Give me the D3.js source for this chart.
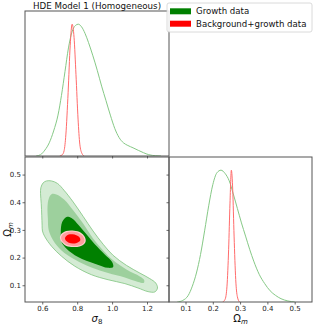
<!DOCTYPE html>
<html>
<head>
<meta charset="utf-8">
<script src="https://cdn.jsdelivr.net/npm/d3@7"></script>
<style>
html,body{margin:0;padding:0;background:#fff;}
svg{display:block;font-family:"DejaVu Sans",sans-serif;}
</style>
</head>
<body>
<svg id="chart" width="316" height="329"></svg>
<script>
// ---------- data ----------
const title = "HDE Model 1 (Homogeneous)";
const seriesNames = ["Growth data", "Background+growth data"];
const sigma8Ticks = [0.6, 0.8, 1.0, 1.2];
const omegaTicks = [0.1, 0.2, 0.3, 0.4, 0.5];
const sigma8Range = [0.501, 1.326];
const omegaRange = [0.0395, 0.5635];

// 1D marginal of sigma8 (normalised density)
const growthSigma8 = [[0.565,0],[0.59,0.01],[0.615,0.045],[0.64,0.1],[0.665,0.19],[0.69,0.31],[0.71,0.46],[0.73,0.64],[0.75,0.82],[0.77,0.94],[0.79,0.99],[0.806,1.0],[0.825,0.98],[0.845,0.93],[0.865,0.86],[0.89,0.76],[0.915,0.65],[0.94,0.53],[0.965,0.42],[0.99,0.31],[1.015,0.21],[1.04,0.14],[1.065,0.10],[1.09,0.08],[1.12,0.062],[1.15,0.043],[1.18,0.025],[1.21,0.01],[1.25,0.002],[1.28,0]];
const bgSigma8 = [[0.70,0],[0.715,0.01],[0.725,0.04],[0.735,0.16],[0.748,0.48],[0.76,0.84],[0.771,1.0],[0.782,0.9],[0.793,0.62],[0.805,0.28],[0.815,0.09],[0.827,0.02],[0.84,0]];
// 1D marginal of Omega_m
const growthOmega = [[0.07,0],[0.09,0.012],[0.11,0.05],[0.125,0.12],[0.14,0.22],[0.155,0.36],[0.17,0.54],[0.185,0.73],[0.2,0.89],[0.215,0.98],[0.23,1.0],[0.245,0.975],[0.26,0.92],[0.275,0.82],[0.29,0.71],[0.305,0.6],[0.32,0.5],[0.335,0.4],[0.35,0.31],[0.37,0.21],[0.39,0.14],[0.41,0.085],[0.43,0.05],[0.45,0.025],[0.475,0.008],[0.5,0]];
const bgOmega = [[0.236,0],[0.245,0.02],[0.252,0.12],[0.258,0.4],[0.263,0.75],[0.268,1.0],[0.273,0.85],[0.278,0.5],[0.284,0.17],[0.29,0.04],[0.298,0]];

// 2D contours (sigma8, Omega_m)
const growth3 = [[0.624,0.477],[0.605,0.470],[0.592,0.453],[0.590,0.431],[0.594,0.395],[0.597,0.353],[0.599,0.317],[0.601,0.296],[0.615,0.275],[0.653,0.241],[0.710,0.205],[0.786,0.169],[0.882,0.138],[0.977,0.120],[1.073,0.106],[1.149,0.090],[1.206,0.077],[1.245,0.076],[1.260,0.090],[1.250,0.108],[1.216,0.124],[1.159,0.144],[1.082,0.172],[1.006,0.208],[0.949,0.248],[0.891,0.296],[0.834,0.349],[0.777,0.401],[0.725,0.443],[0.687,0.468],[0.653,0.477]];
const growth2 = [[0.653,0.429],[0.637,0.413],[0.630,0.383],[0.632,0.341],[0.637,0.299],[0.662,0.263],[0.710,0.226],[0.786,0.193],[0.882,0.164],[0.977,0.144],[1.073,0.128],[1.149,0.112],[1.182,0.109],[1.183,0.120],[1.159,0.132],[1.082,0.157],[1.006,0.190],[0.949,0.226],[0.891,0.269],[0.834,0.323],[0.777,0.371],[0.725,0.410],[0.681,0.428]];
const growth1 = [[0.739,0.347],[0.714,0.329],[0.706,0.293],[0.710,0.257],[0.739,0.232],[0.805,0.202],[0.901,0.178],[0.977,0.163],[1.006,0.166],[1.000,0.184],[0.958,0.211],[0.901,0.248],[0.853,0.284],[0.809,0.317],[0.767,0.343]];
const bg3 = [[0.849,0.262],[0.839,0.279],[0.811,0.293],[0.773,0.298],[0.737,0.296],[0.710,0.286],[0.701,0.272],[0.711,0.256],[0.738,0.242],[0.776,0.238],[0.814,0.240],[0.840,0.249]];
const bg2 = [[0.842,0.262],[0.833,0.277],[0.808,0.289],[0.773,0.294],[0.740,0.292],[0.716,0.283],[0.708,0.272],[0.717,0.258],[0.741,0.246],[0.776,0.242],[0.810,0.244],[0.834,0.251]];
const bg1 = [[0.818,0.264],[0.812,0.274],[0.795,0.281],[0.773,0.284],[0.751,0.283],[0.736,0.277],[0.730,0.270],[0.736,0.261],[0.752,0.254],[0.775,0.251],[0.797,0.253],[0.812,0.258]];

// ---------- layout ----------
const svg = d3.select("#chart");
const L = 25, M = 169, R = 312;      // x edges
const T = 11, B1 = 156, T2 = 157, B2 = 302; // y edges

const xS = d3.scaleLinear().domain(sigma8Range).range([L, M]);
const xO = d3.scaleLinear().domain(omegaRange).range([M, R]);
const yO = d3.scaleLinear().domain(omegaRange).range([B2, T2]);
const yD1 = d3.scaleLinear().domain([0, 1.1]).range([B1, T]);
const yD2 = d3.scaleLinear().domain([0, 1.1]).range([B2, T2]);

const green = "#008000", red = "#ff0000";

// clip paths
const defs = svg.append("defs");
function clip(id, x0, y0, x1, y1) {
  defs.append("clipPath").attr("id", id).append("rect")
    .attr("x", x0).attr("y", y0).attr("width", x1 - x0).attr("height", y1 - y0);
}
clip("c1", L, T, M, B1);
clip("c2", L, T2, M, B2);
clip("c3", M, T2, R, B2);

// 1D panels
const g1 = svg.append("g").attr("clip-path", "url(#c1)");
const lineS = d3.line().x(d => xS(d[0])).y(d => yD1(d[1])).curve(d3.curveMonotoneX);
g1.append("path").attr("d", lineS(growthSigma8)).attr("fill", "none").attr("stroke", "#86c986").attr("stroke-width", 1);
g1.append("path").attr("d", lineS(bgSigma8)).attr("fill", "none").attr("stroke", "#ff6b6b").attr("stroke-width", 1);

const g3 = svg.append("g").attr("clip-path", "url(#c3)");
const lineO = d3.line().x(d => xO(d[0])).y(d => yD2(d[1])).curve(d3.curveMonotoneX);
g3.append("path").attr("d", lineO(growthOmega)).attr("fill", "none").attr("stroke", "#86c986").attr("stroke-width", 1);
g3.append("path").attr("d", lineO(bgOmega)).attr("fill", "none").attr("stroke", "#ff6b6b").attr("stroke-width", 1);

// 2D panel
const g2 = svg.append("g").attr("clip-path", "url(#c2)");
const area2 = d3.line().x(d => xS(d[0])).y(d => yO(d[1])).curve(d3.curveCatmullRomClosed.alpha(0.5));
g2.append("path").attr("d", area2(growth3)).attr("fill", "#d4ebd4").attr("stroke", "#7fc47f").attr("stroke-width", 0.8);
g2.append("path").attr("d", area2(growth2)).attr("fill", "#9dd09d");
g2.append("path").attr("d", area2(growth1)).attr("fill", green);
g2.append("path").attr("d", area2(bg3)).attr("fill", "#ffd0d0");
g2.append("path").attr("d", area2(bg2)).attr("fill", "#ff9e9e");
g2.append("path").attr("d", area2(bg1)).attr("fill", red);

// frames
const frameCol = "#555";
function frame(x0, y0, x1, y1) {
  svg.append("rect").attr("x", x0).attr("y", y0).attr("width", x1 - x0).attr("height", y1 - y0)
    .attr("fill", "none").attr("stroke", frameCol).attr("stroke-width", 1);
}
frame(L, T, M, B1);
frame(L, T2, M, B2);
frame(M, T2, R, B2);

// axes
const tickFmt = d3.format(".1f");
function styleAxis(g, showLabels) {
  g.select(".domain").remove();
  g.selectAll(".tick line").attr("stroke", "#444").attr("stroke-width", 0.8);
  g.selectAll(".tick text").attr("fill", "#222").style("font-size", "7px").style("font-family", "DejaVu Sans");
  if (!showLabels) g.selectAll(".tick text").remove();
}
// top-left bottom ticks (no labels)
styleAxis(svg.append("g").attr("transform", `translate(0,${B1})`)
  .call(d3.axisBottom(xS).tickValues(sigma8Ticks).tickSize(2.5).tickPadding(2)), false);
// bottom-left x
styleAxis(svg.append("g").attr("transform", `translate(0,${B2})`)
  .call(d3.axisBottom(xS).tickValues(sigma8Ticks).tickFormat(tickFmt).tickSize(2.5).tickPadding(2)), true);
// bottom-left y
styleAxis(svg.append("g").attr("transform", `translate(${L},0)`)
  .call(d3.axisLeft(yO).tickValues(omegaTicks).tickFormat(tickFmt).tickSize(2.5).tickPadding(1.5)), true);
// bottom-right left ticks
styleAxis(svg.append("g").attr("transform", `translate(${M},0)`)
  .call(d3.axisLeft(yO).tickValues(omegaTicks).tickSize(2.5)), false);
// bottom-right x
styleAxis(svg.append("g").attr("transform", `translate(0,${B2})`)
  .call(d3.axisBottom(xO).tickValues(omegaTicks).tickFormat(tickFmt).tickSize(2.5).tickPadding(2)), true);

// axis labels
const lab1 = svg.append("text").attr("x", (L + M) / 2).attr("y", 322).attr("text-anchor", "middle")
  .style("font-size", "10px").attr("fill", "#111");
lab1.append("tspan").text("σ").style("font-style", "italic");
lab1.append("tspan").text("8").style("font-size", "7px").attr("dy", 2);

const lab2 = svg.append("text").attr("x", (M + R) / 2).attr("y", 322).attr("text-anchor", "middle")
  .style("font-size", "10px").attr("fill", "#111");
lab2.append("tspan").text("Ω");
lab2.append("tspan").text("m").style("font-size", "7px").style("font-style", "italic").attr("dy", 2);

const lab3 = svg.append("text").attr("transform", `translate(10.5,${(T2 + B2) / 2}) rotate(-90)`)
  .attr("text-anchor", "middle").style("font-size", "10px").attr("fill", "#111");
lab3.append("tspan").text("Ω");
lab3.append("tspan").text("m").style("font-size", "7px").style("font-style", "italic").attr("dy", 2);

// title
svg.append("text").attr("x", (L + M) / 2).attr("y", 9).attr("text-anchor", "middle")
  .style("font-size", "8.7px").attr("fill", "#111").text(title);

// legend
const lg = svg.append("g");
lg.append("rect").attr("x", 167).attr("y", 3).attr("width", 145).attr("height", 29).attr("rx", 2)
  .attr("fill", "#fff").attr("fill-opacity", 0.85).attr("stroke", "#d0d0d0").attr("stroke-width", 0.8);
const legColors = [green, red];
seriesNames.forEach((name, i) => {
  const cy = 11.3 + i * 12.4;
  lg.append("rect").attr("x", 170).attr("y", cy - 3).attr("width", 21).attr("height", 6).attr("fill", legColors[i]);
  lg.append("text").attr("x", 196).attr("y", cy).attr("dy", "0.35em")
    .style("font-size", "8.6px").attr("fill", "#111").text(name);
});
</script>
</body>
</html>
